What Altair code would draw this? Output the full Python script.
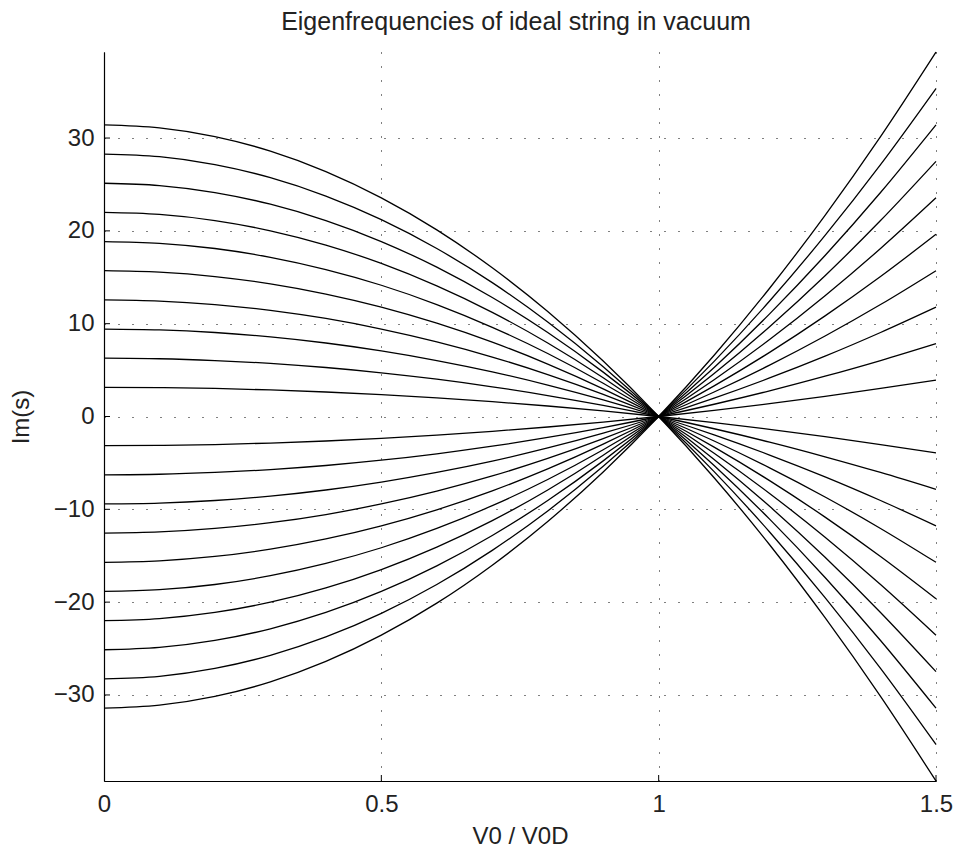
import altair as alt
import pandas as pd

# Sample positions along V0 / V0D
v_ratio = [0.0, 0.1, 0.2, 0.3, 0.4, 0.5, 0.6, 0.7, 0.8, 0.9, 1.0, 1.1, 1.2, 1.3, 1.4, 1.5]

# Im(s) branches (upper family at V0=0)
mode_1_up = [3.14, 3.11, 3.02, 2.86, 2.64, 2.36, 2.01, 1.60, 1.13, 0.60, 0.0, -0.66, -1.38, -2.17, -3.02, -3.93]
mode_2_up = [6.28, 6.22, 6.03, 5.72, 5.28, 4.71, 4.02, 3.20, 2.26, 1.19, 0.0, -1.32, -2.76, -4.34, -6.03, -7.85]
mode_3_up = [9.42, 9.33, 9.05, 8.58, 7.92, 7.07, 6.03, 4.81, 3.39, 1.79, 0.0, -1.98, -4.15, -6.50, -9.05, -11.78]
mode_4_up = [12.57, 12.44, 12.06, 11.44, 10.56, 9.42, 8.04, 6.41, 4.52, 2.39, 0.0, -2.64, -5.53, -8.67, -12.06, -15.71]
mode_5_up = [15.71, 15.55, 15.08, 14.29, 13.19, 11.78, 10.05, 8.01, 5.65, 2.98, 0.0, -3.30, -6.91, -10.84, -15.08, -19.63]
mode_6_up = [18.85, 18.66, 18.10, 17.15, 15.83, 14.14, 12.06, 9.61, 6.79, 3.58, 0.0, -3.96, -8.29, -13.01, -18.10, -23.56]
mode_7_up = [21.99, 21.77, 21.11, 20.01, 18.47, 16.49, 14.07, 11.22, 7.92, 4.18, 0.0, -4.62, -9.68, -15.17, -21.11, -27.49]
mode_8_up = [25.13, 24.88, 24.13, 22.87, 21.11, 18.85, 16.09, 12.82, 9.05, 4.78, 0.0, -5.28, -11.06, -17.34, -24.13, -31.42]
mode_9_up = [28.27, 27.99, 27.14, 25.73, 23.75, 21.21, 18.10, 14.42, 10.18, 5.37, 0.0, -5.94, -12.44, -19.51, -27.14, -35.34]
mode_10_up = [31.42, 31.10, 30.16, 28.59, 26.39, 23.56, 20.11, 16.02, 11.31, 5.97, 0.0, -6.60, -13.82, -21.68, -30.16, -39.27]

# Lower family at V0=0
mode_1_dn = [-3.14, -3.11, -3.02, -2.86, -2.64, -2.36, -2.01, -1.60, -1.13, -0.60, 0.0, 0.66, 1.38, 2.17, 3.02, 3.93]
mode_2_dn = [-6.28, -6.22, -6.03, -5.72, -5.28, -4.71, -4.02, -3.20, -2.26, -1.19, 0.0, 1.32, 2.76, 4.34, 6.03, 7.85]
mode_3_dn = [-9.42, -9.33, -9.05, -8.58, -7.92, -7.07, -6.03, -4.81, -3.39, -1.79, 0.0, 1.98, 4.15, 6.50, 9.05, 11.78]
mode_4_dn = [-12.57, -12.44, -12.06, -11.44, -10.56, -9.42, -8.04, -6.41, -4.52, -2.39, 0.0, 2.64, 5.53, 8.67, 12.06, 15.71]
mode_5_dn = [-15.71, -15.55, -15.08, -14.29, -13.19, -11.78, -10.05, -8.01, -5.65, -2.98, 0.0, 3.30, 6.91, 10.84, 15.08, 19.63]
mode_6_dn = [-18.85, -18.66, -18.10, -17.15, -15.83, -14.14, -12.06, -9.61, -6.79, -3.58, 0.0, 3.96, 8.29, 13.01, 18.10, 23.56]
mode_7_dn = [-21.99, -21.77, -21.11, -20.01, -18.47, -16.49, -14.07, -11.22, -7.92, -4.18, 0.0, 4.62, 9.68, 15.17, 21.11, 27.49]
mode_8_dn = [-25.13, -24.88, -24.13, -22.87, -21.11, -18.85, -16.09, -12.82, -9.05, -4.78, 0.0, 5.28, 11.06, 17.34, 24.13, 31.42]
mode_9_dn = [-28.27, -27.99, -27.14, -25.73, -23.75, -21.21, -18.10, -14.42, -10.18, -5.37, 0.0, 5.94, 12.44, 19.51, 27.14, 35.34]
mode_10_dn = [-31.42, -31.10, -30.16, -28.59, -26.39, -23.56, -20.11, -16.02, -11.31, -5.97, 0.0, 6.60, 13.82, 21.68, 30.16, 39.27]

x_ticks = [0, 0.5, 1, 1.5]
y_ticks = [-30, -20, -10, 0, 10, 20, 30]
y_limits = [-39.27, 39.27]
x_limits = [0, 1.5]
chart_title = ["Eigenfrequencies of ideal string in vacuum"]

series = {
    "up1": mode_1_up, "up2": mode_2_up, "up3": mode_3_up, "up4": mode_4_up, "up5": mode_5_up,
    "up6": mode_6_up, "up7": mode_7_up, "up8": mode_8_up, "up9": mode_9_up, "up10": mode_10_up,
    "dn1": mode_1_dn, "dn2": mode_2_dn, "dn3": mode_3_dn, "dn4": mode_4_dn, "dn5": mode_5_dn,
    "dn6": mode_6_dn, "dn7": mode_7_dn, "dn8": mode_8_dn, "dn9": mode_9_dn, "dn10": mode_10_dn,
}
rows = []
for name, vals in series.items():
    for xv, yv in zip(v_ratio, vals):
        rows.append({"series": name, "v": xv, "ims": yv})
df = pd.DataFrame(rows)

W, H = 832, 729
FONT = "Liberation Sans"
FS = 24
TXT = "#222222"

xscale = alt.Scale(domain=x_limits, nice=False, zero=False)
yscale = alt.Scale(domain=y_limits, nice=False, zero=False)

grid_style = dict(grid=True, gridColor="black", gridDash=[1, 13], gridOpacity=1, gridWidth=1,
                  ticks=False, tickSize=0, domainColor="black", domainWidth=1.2,
                  labelFont=FONT, labelFontSize=FS, labelColor=TXT, labelFlush=False,
                  titleFont=FONT, titleFontSize=FS, titleFontWeight="normal",
                  titleColor=TXT, format="~g")

lines = alt.Chart(df).mark_line(color="black", strokeWidth=1.3, interpolate="monotone").encode(
    x=alt.X("v:Q", scale=xscale,
            axis=alt.Axis(values=x_ticks, title="V0 / V0D", labelPadding=11,
                          titleBaseline="alphabetic", titleY=62, titleX=W / 2,
                          **grid_style)),
    y=alt.Y("ims:Q", scale=yscale,
            axis=alt.Axis(values=y_ticks, title="Im(s)", labelPadding=10,
                          titleAngle=-90, titleBaseline="alphabetic", titleAlign="center",
                          titleX=-76, titleY=H / 2, **grid_style)),
    detail="series:N",
)

yt = pd.DataFrame({"t": y_ticks})
xt = pd.DataFrame({"t": x_ticks[1:]})

ytick_marks = alt.Chart(yt).mark_rule(color="black", strokeWidth=1).encode(
    y=alt.Y("t:Q", scale=yscale), x=alt.value(0), x2=alt.value(6))
xtick_marks = alt.Chart(xt).mark_rule(color="black", strokeWidth=1).encode(
    x=alt.X("t:Q", scale=xscale), y=alt.value(H), y2=alt.value(H - 6))

title_mark = alt.Chart(pd.DataFrame({"title": chart_title})).mark_text(
    font=FONT, fontSize=25, color=TXT, align="center", baseline="alphabetic"
).encode(text="title:N", x=alt.value(W / 2 - 4), y=alt.value(-22))

chart = alt.layer(lines, ytick_marks, xtick_marks, title_mark).properties(
    width=W, height=H,
    padding={"left": 104, "top": 52, "right": 22, "bottom": 74},
    autosize=alt.AutoSizeParams(type="none"),
    background="white",
).configure_view(stroke=None)

chart.save("out.html", embed_options={"renderer": "svg", "actions": False})
